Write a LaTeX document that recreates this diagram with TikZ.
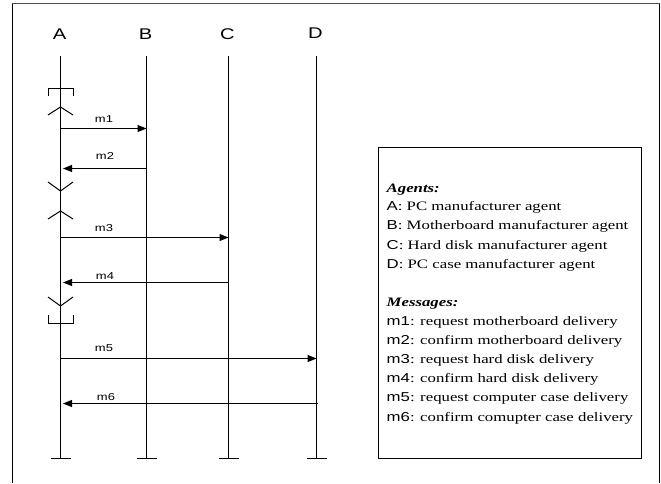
\documentclass[tikz,border=0pt]{standalone}
\usepackage{fontspec,graphicx}
\setmainfont{Liberation Serif}
\setsansfont{Liberation Sans}
\usetikzlibrary{arrows.meta}
\newcommand{\wx}[1]{\scalebox{1.3}[1]{#1}}

\begin{document}
\begin{tikzpicture}[x=1pt,y=-1pt,life/.style={line width=1pt},msg/.style={-{Triangle[length=9pt,width=7pt]},line width=1pt},head/.style={font=\sffamily\fontsize{15.5}{15.5}\selectfont,inner sep=0,anchor=base},mlab/.style={font=\sffamily\fontsize{10}{10}\selectfont,inner sep=0,anchor=base},leg/.style={font=\fontsize{12.9}{12.9}\selectfont,anchor=base west,inner sep=0}]
\useasboundingbox (0,0) rectangle (661,483);
% frame
\draw[line width=1.6pt,black!70] (12,3.5) -- (660,3.5);
\draw[line width=1.2pt] (12.5,3.5) -- (12.5,483);\draw[line width=1.2pt] (659.5,3.5) -- (659.5,483);
% agents and lifelines
\foreach \n/\x/\ly in {A/60.5/39.5,B/146.5/39.5,C/228.5/39.5,D/316.5/38}{
\node[head] (\n) at (\x-1,\ly) {\wx{\n}};
\coordinate (\n top) at (\x,56);\coordinate (\n bot) at (\x,458.5);
\draw[life] (\n top) -- (\n bot);\draw[life] (\x-10,458.5) -- (\x+10,458.5);}
% activation marks on A
\draw[life] (48,96) |- (73,88.5) -- (73,96);
\draw[life] (48,315) |- (73,323.5) -- (73,315);
\foreach \y/\d in {107/8,211/8,191/-9,306/-9} \draw[life] (48,\y+\d) -- (60.5,\y) -- (73,\y+\d);
% messages
\foreach \m/\xa/\xb/\y/\lx/\ly in {m1/61/146.5/128.5/104/122.5,m2/146.5/63/168.5/105/159.5,m3/61/228.5/237.5/104/231,m4/228.5/63/282.5/105/279.5,m5/61/316.5/358.5/104/351,m6/318/63/403.5/106/400.5}{
\coordinate (\m s) at (\xa,\y);\coordinate (\m e) at (\xb,\y);
\draw[msg] (\m s) -- (\m e);
\node[mlab] (\m) at (\lx,\ly) {\wx{\m}};}
% legend
\node[draw,line width=1.2pt,minimum width=263pt,minimum height=311pt,anchor=north west,inner sep=0] (legend) at (377.5,147) {};
\node[leg] (agents) at (386.5,192) {\wx{\textbf{\textit{Agents:}}}};
\foreach \k/\t/\y in {A/PC manufacturer agent/210.5,B/Motherboard manufacturer agent/229.5,C/Hard disk manufacturer agent/249,D/PC case manufacturer agent/268.5}
\node[leg] (ag\k) at (386.5,\y) {\wx{\textsf{\k}: \t}};
\node[leg] (messages) at (386.5,306.5) {\wx{\textbf{\textit{Messages:}}}};
\foreach \k/\t/\y in {m1/request motherboard delivery/325,m2/confirm motherboard delivery/344,m3/request hard disk delivery/363.5,m4/confirm hard disk delivery/382.5,m5/request computer case delivery/401.5,m6/confirm comupter case delivery/421}
\node[leg] (l\k) at (386.5,\y) {\wx{\textsf{\k}: \t}};
\end{tikzpicture}
\end{document}
